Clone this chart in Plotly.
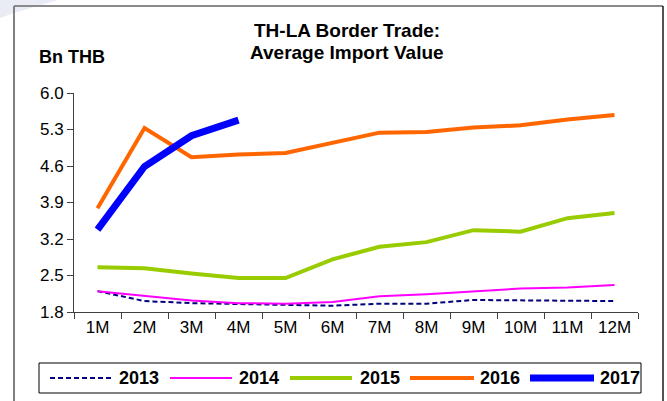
import plotly.graph_objects as go

# Average monthly import value, TH-LA border trade (Bn THB)
months = ["1M", "2M", "3M", "4M", "5M", "6M", "7M", "8M", "9M", "10M", "11M", "12M"]
y2013 = [2.20, 2.01, 1.97, 1.95, 1.94, 1.92, 1.96, 1.96, 2.03, 2.02, 2.01, 2.01]
y2014 = [2.20, 2.11, 2.02, 1.97, 1.96, 1.99, 2.10, 2.14, 2.19, 2.25, 2.27, 2.32]
y2015 = [2.66, 2.64, 2.54, 2.45, 2.45, 2.81, 3.05, 3.14, 3.37, 3.34, 3.60, 3.70]
y2016 = [3.79, 5.33, 4.77, 4.82, 4.85, 5.05, 5.24, 5.25, 5.34, 5.38, 5.49, 5.58]
y2017 = [3.38, 4.59, 5.18, 5.48]
y_ticks = [1.8, 2.5, 3.2, 3.9, 4.6, 5.3, 6.0]

W, H = 667, 401
ML, MR, MT, MB = 74, 29, 93, 89
PW, PH = W - ML - MR, H - MT - MB
FONT = "Liberation Sans, Arial, sans-serif"


def px(x):
    return (x - ML) / PW


def py(y):
    return (H - MB - y) / PH


series = [
    ("2013", y2013, dict(color="#000080", width=2, dash="5px,3px")),
    ("2014", y2014, dict(color="#FF00FF", width=2)),
    ("2015", y2015, dict(color="#99CC00", width=4)),
    ("2016", y2016, dict(color="#FF6600", width=4)),
    ("2017", y2017, dict(color="#0000FF", width=7)),
]

fig = go.Figure()
for name, vals, line in series:
    fig.add_trace(go.Scatter(
        x=months[:len(vals)], y=vals, mode="lines", name=name,
        line=dict(shape="linear", **line), showlegend=False,
    ))

shapes = []
annotations = []

# faint corner decoration behind the frame
shapes.append(dict(type="path", xref="paper", yref="paper", layer="below",
                   path="M %f,%f L %f,%f L %f,%f L %f,%f Z" % (px(0), py(0), px(58), py(0),
                                                           px(14), py(13), px(0), py(18)),
                   fillcolor="#E9ECF4", line=dict(width=0)))

# outer chart frame
shapes += [
    dict(type="line", xref="paper", yref="paper", x0=px(14), x1=px(663), y0=py(6), y1=py(6),
         line=dict(color="#8a8a8a", width=2)),
    dict(type="line", xref="paper", yref="paper", x0=px(14), x1=px(14), y0=py(6), y1=py(405),
         line=dict(color="#808080", width=2)),
    dict(type="line", xref="paper", yref="paper", x0=px(663), x1=px(663), y0=py(6), y1=py(405),
         line=dict(color="#1a1a1a", width=1.5)),
]

# legend box and entries
shapes.append(dict(type="rect", xref="paper", yref="paper", x0=px(39), x1=px(641), y0=py(363), y1=py(393),
                   line=dict(color="#000000", width=1), fillcolor="rgba(0,0,0,0)"))
legend_x = [(50, 111, 139), (170, 232, 259), (290, 352, 380), (410, 474, 500), (530, 594, 620)]
for (name, vals, line), (lx0, lx1, tx) in zip(series, legend_x):
    shapes.append(dict(type="line", xref="paper", yref="paper", x0=px(lx0), x1=px(lx1),
                       y0=py(378), y1=py(378), line=line))
    annotations.append(dict(text="<b>%s</b>" % name, xref="paper", yref="paper", x=px(tx), y=py(378),
                            xanchor="center", yanchor="middle", showarrow=False,
                            font=dict(family=FONT, size=18, color="#000000")))

# titles
annotations += [
    dict(text="<b>TH-LA Border Trade:</b>", xref="paper", yref="paper", x=px(347), y=py(31),
         xanchor="center", yanchor="middle", showarrow=False, font=dict(family=FONT, size=19, color="#000")),
    dict(text="<b>Average Import Value</b>", xref="paper", yref="paper", x=px(347), y=py(52),
         xanchor="center", yanchor="middle", showarrow=False, font=dict(family=FONT, size=19, color="#000")),
    dict(text="<b>Bn THB</b>", xref="paper", yref="paper", x=px(37), y=py(57),
         xanchor="left", yanchor="middle", showarrow=False, font=dict(family=FONT, size=18, color="#000")),
]

fig.update_layout(
    width=W, height=H,
    margin=dict(l=ML, r=MR, t=MT, b=MB, pad=0),
    paper_bgcolor="white", plot_bgcolor="white",
    showlegend=False,
    shapes=shapes, annotations=annotations,
    font=dict(family=FONT, size=17, color="#000"),
)
fig.update_xaxes(
    type="category", categoryorder="array", categoryarray=months,
    range=[-0.5, len(months) - 0.5],
    showline=True, linecolor="#404040", linewidth=1,
    ticks="outside", tickson="boundaries", ticklen=6, tickcolor="#404040",
    showgrid=False, zeroline=False, tickfont=dict(family=FONT, size=17, color="#000"),
)
fig.update_yaxes(
    range=[1.8, 6.0], tickmode="array", tickvals=y_ticks, ticktext=["%.1f" % v for v in y_ticks],
    showline=True, linecolor="#404040", linewidth=1,
    ticks="outside", ticklen=6, tickcolor="#404040",
    showgrid=False, zeroline=False, tickfont=dict(family=FONT, size=17, color="#000"),
)

fig.write_html("out.html")
